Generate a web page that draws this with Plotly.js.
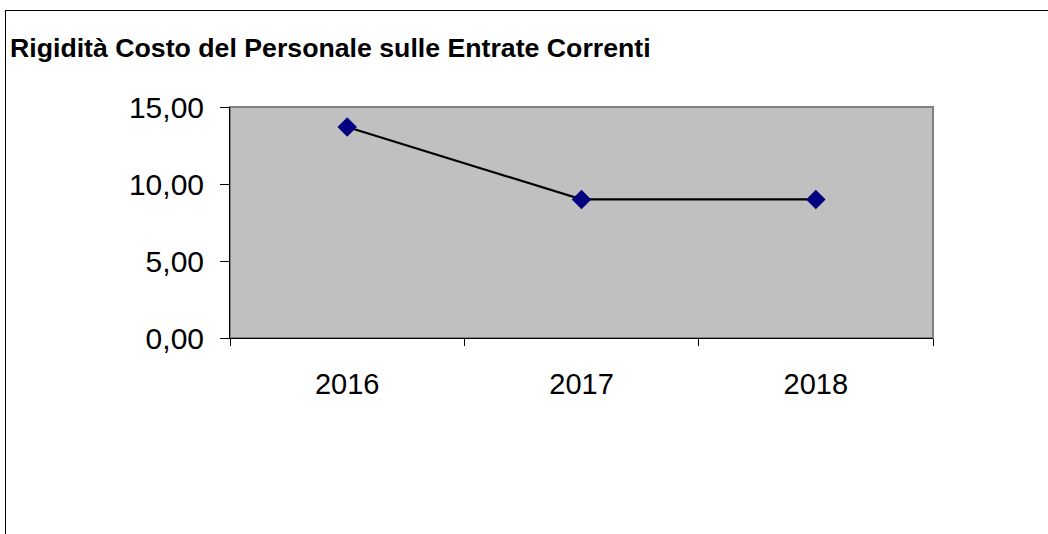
<!DOCTYPE html>
<html>
<head>
<meta charset="utf-8">
<script src="https://cdn.plot.ly/plotly-3.0.1.min.js"></script>
<style>
  html, body { margin: 0; padding: 0; background: #fff; }
  #wrap { position: relative; width: 1048px; height: 534px; overflow: hidden; }
  #chart { position: absolute; left: 0; top: 0; width: 1048px; height: 534px; }
  #frame { position: absolute; left: 5px; top: 10px; width: 1100px; height: 600px;
           border-left: 1.5px solid #000; border-top: 1.5px solid #000; pointer-events: none; }
</style>
</head>
<body>
<div id="wrap">
  <div id="chart"></div>
  <div id="frame"></div>
</div>
<script>
const chartTitle = "Rigidità Costo del Personale sulle Entrate Correnti";
const years = ["2016", "2017", "2018"];
const rigidita = [13.7, 9.0, 9.0];
const yTicks = [0, 5, 10, 15];

const trace = {
  x: years,
  y: rigidita,
  type: "scatter",
  mode: "lines+markers",
  line: { color: "#000000", width: 2.2 },
  marker: { symbol: "diamond", size: 15, color: "#000080", line: { width: 0 } },
  hoverinfo: "x+y"
};

const layout = {
  width: 1048,
  height: 534,
  margin: { l: 230, r: 115, t: 107, b: 196, pad: 0 },
  paper_bgcolor: "#ffffff",
  plot_bgcolor: "#c0c0c0",
  separators: ",.",
  showlegend: false,
  font: { family: "Liberation Sans, Arial, sans-serif", color: "#000" },
  title: {
    text: "<b>" + chartTitle + "</b>",
    font: { family: "Liberation Sans, Arial, sans-serif", size: 26.7, color: "#000" },
    xref: "container", x: 10 / 1048, xanchor: "left",
    yref: "container", y: 1 - 48 / 534, yanchor: "middle"
  },
  xaxis: {
    type: "category",
    range: [-0.5, 2.5],
    showgrid: false,
    zeroline: false,
    showline: true, linecolor: "#000", linewidth: 1,
    ticks: "outside", tickson: "boundaries", ticklen: 7, tickcolor: "#000", tickwidth: 1,
    tickfont: { size: 29, family: "Liberation Sans, Arial, sans-serif", color: "#000" },
    ticklabelstandoff: 20,
    fixedrange: true
  },
  yaxis: {
    range: [0, 15],
    tickvals: yTicks,
    tickformat: ".2f",
    showgrid: false,
    zeroline: false,
    showline: true, linecolor: "#000", linewidth: 1,
    ticks: "outside", ticklen: 9, tickcolor: "#000", tickwidth: 1,
    tickfont: { size: 30, family: "Liberation Sans, Arial, sans-serif", color: "#000" },
    ticklabelstandoff: 10,
    fixedrange: true
  },
  shapes: [{
    type: "rect", xref: "paper", yref: "paper", x0: 0, x1: 1, y0: 0, y1: 1,
    line: { color: "#808080", width: 2 }, layer: "below"
  }]
};

Plotly.newPlot("chart", [trace], layout, { displayModeBar: false, staticPlot: true });
</script>
</body>
</html>
